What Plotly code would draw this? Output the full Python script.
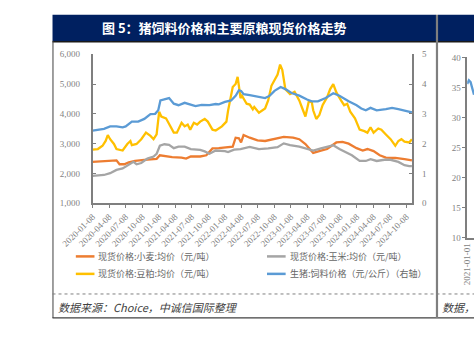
import plotly.graph_objects as go

W, H = 474, 341

title_text = "图 5：猪饲料价格和主要原粮现货价格走势"
source_text = "数据来源：Choice，中诚信国际整理"
source_text_right = "数据，"

series_names = ["现货价格:小麦:均价（元/吨）", "现货价格:玉米:均价（元/吨）",
                "现货价格:豆粕:均价（元/吨）", "生猪:饲料价格（元/公斤）（右轴）"]
series_colors = ["#ED7D31", "#A5A5A5", "#FFC000", "#5B9BD5"]

tick_labels = ["2020-01-08", "2020-04-08", "2020-07-08", "2020-10-08",
               "2021-01-08", "2021-04-08", "2021-07-08", "2021-10-08",
               "2022-01-08", "2022-04-08", "2022-07-08", "2022-10-08",
               "2023-01-08", "2023-04-08", "2023-07-08", "2023-10-08",
               "2024-01-08", "2024-04-08", "2024-07-08", "2024-10-08"]
left_ticks = [1000, 2000, 3000, 4000, 5000, 6000]
right_ticks = [0, 1, 2, 3, 4, 5]

wheat_dates = ["2020-01-08", "2020-05-02", "2020-05-19", "2020-06-05", "2020-07-01", "2020-07-26",
               "2020-08-30", "2020-10-20", "2020-12-27", "2021-01-14", "2021-03-23", "2021-05-14",
               "2021-06-08", "2021-07-04", "2021-08-25", "2021-09-28", "2021-11-01", "2021-12-06",
               "2022-01-26", "2022-02-21", "2022-03-09", "2022-03-27", "2022-04-08", "2022-04-22",
               "2022-05-26", "2022-07-08", "2022-08-19", "2022-10-10", "2022-11-30", "2023-01-21",
               "2023-02-24", "2023-03-30", "2023-04-25", "2023-05-12", "2023-06-24", "2023-07-28",
               "2023-09-17", "2023-10-21", "2023-11-24", "2024-01-07", "2024-02-10", "2024-03-07",
               "2024-04-10", "2024-05-14", "2024-06-17", "2024-08-08", "2024-09-28", "2024-11-08"]
wheat_vals = [2390, 2420, 2440, 2310, 2310, 2370,
              2420, 2460, 2490, 2610, 2550, 2530,
              2500, 2570, 2570, 2610, 2840, 2850,
              2900, 2900, 3200, 3180, 3040, 3290,
              3200, 3110, 3090, 3150, 3230, 3200,
              3150, 2990, 2820, 2690, 2770, 2820,
              3040, 3060, 3000, 2850, 2770, 2820,
              2750, 2610, 2530, 2520, 2480, 2440]

corn_dates = ["2020-01-08", "2020-03-11", "2020-04-14", "2020-05-19", "2020-06-22", "2020-07-26",
              "2020-08-21", "2020-09-07", "2020-10-03", "2020-11-06", "2020-12-10", "2020-12-27",
              "2021-01-14", "2021-02-08", "2021-03-06", "2021-04-01", "2021-04-27", "2021-05-31",
              "2021-07-04", "2021-08-25", "2021-09-19", "2021-10-15", "2021-11-19", "2022-01-09",
              "2022-01-26", "2022-03-01", "2022-04-05", "2022-05-26", "2022-06-29", "2022-07-16",
              "2022-09-05", "2022-10-27", "2022-11-30", "2023-01-04", "2023-02-24", "2023-03-30",
              "2023-05-12", "2023-06-24", "2023-08-06", "2023-08-31", "2023-10-04", "2023-11-07",
              "2023-12-12", "2024-01-24", "2024-02-27", "2024-03-24", "2024-04-27", "2024-06-09",
              "2024-07-13", "2024-08-25", "2024-09-28", "2024-10-24", "2024-11-08"]
corn_vals = [1920, 1950, 2010, 2120, 2170, 2280,
             2390, 2310, 2350, 2500, 2570, 2660,
             2930, 2980, 2960, 2850, 2900, 2900,
             2820, 2790, 2740, 2660, 2770, 2750,
             2720, 2800, 2820, 2890, 2850, 2820,
             2840, 2880, 3010, 2950, 2900, 2850,
             2770, 2840, 2900, 2950, 2820, 2720,
             2610, 2420, 2420, 2480, 2420, 2460,
             2460, 2390, 2280, 2250, 2250]

soy_dates = ["2020-01-08", "2020-02-06", "2020-03-03", "2020-03-20", "2020-04-01", "2020-04-14",
             "2020-05-05", "2020-05-19", "2020-06-22", "2020-07-18", "2020-08-04", "2020-08-12",
             "2020-09-07", "2020-10-03", "2020-10-29", "2020-11-23", "2020-12-10", "2020-12-27",
             "2021-01-10", "2021-01-22", "2021-02-17", "2021-03-06", "2021-04-01", "2021-04-18",
             "2021-05-14", "2021-05-31", "2021-06-17", "2021-07-01", "2021-07-21", "2021-08-08",
             "2021-08-25", "2021-09-19", "2021-10-06", "2021-11-01", "2021-11-19", "2021-12-23",
             "2022-01-17", "2022-01-26", "2022-02-12", "2022-02-21", "2022-03-09", "2022-03-20",
             "2022-03-27", "2022-04-05", "2022-04-13", "2022-05-09", "2022-05-26", "2022-06-12",
             "2022-06-20", "2022-07-16", "2022-08-19", "2022-09-05", "2022-09-23", "2022-10-27",
             "2022-11-10", "2022-11-22", "2022-12-09", "2023-01-04", "2023-01-29", "2023-02-24",
             "2023-03-13", "2023-03-30", "2023-04-17", "2023-05-04", "2023-05-12", "2023-05-29",
             "2023-06-15", "2023-07-03", "2023-07-28", "2023-08-14", "2023-08-31", "2023-09-17",
             "2023-10-13", "2023-10-30", "2023-11-16", "2023-12-03", "2023-12-29", "2024-01-24",
             "2024-02-19", "2024-03-07", "2024-03-24", "2024-04-10", "2024-05-06", "2024-05-23",
             "2024-06-17", "2024-07-13", "2024-08-08", "2024-08-25", "2024-09-11", "2024-09-28",
             "2024-10-24", "2024-11-08"]
soy_vals = [2800, 2820, 2930, 3090, 3290, 3150,
            2990, 2820, 2770, 2990, 3090, 2950,
            2990, 3150, 3370, 3260, 3150, 3310,
            4070, 3910, 3850, 3640, 3370, 3370,
            3700, 3580, 3640, 3470, 3700, 3640,
            3740, 3830, 3740, 3470, 3440, 3580,
            3740, 4100, 4560, 4900, 5000, 5240,
            4940, 4530, 4610, 4340, 4310, 4150,
            4230, 4040, 4180, 4450, 4940, 5320,
            5650, 5480, 4830, 4660, 4740, 4450,
            4180, 3910, 4400, 4400, 4120, 3830,
            3960, 4290, 4560, 4830, 5000, 4720,
            4450, 4290, 4340, 4070, 3850, 3470,
            3420, 3370, 3550, 3370, 3510, 3470,
            3310, 3150, 2930, 3090, 3150, 3070,
            3040, 3150]

pig_dates = ["2020-01-08", "2020-03-11", "2020-04-14", "2020-05-19", "2020-06-22", "2020-07-09",
             "2020-08-12", "2020-09-16", "2020-10-20", "2020-11-23", "2020-12-19", "2021-01-05",
             "2021-01-17", "2021-02-17", "2021-03-06", "2021-04-01", "2021-04-27", "2021-05-31",
             "2021-07-04", "2021-07-30", "2021-09-02", "2021-10-15", "2021-11-19", "2021-12-06",
             "2022-01-09", "2022-02-12", "2022-03-10", "2022-03-27", "2022-04-08", "2022-04-22",
             "2022-05-26", "2022-06-29", "2022-08-19", "2022-09-14", "2022-10-10", "2022-11-13",
             "2022-12-09", "2023-01-12", "2023-02-24", "2023-04-08", "2023-05-04", "2023-06-07",
             "2023-07-20", "2023-08-31", "2023-10-04", "2023-11-24", "2024-01-07", "2024-02-02",
             "2024-02-27", "2024-03-24", "2024-04-27", "2024-06-17", "2024-07-21", "2024-08-25",
             "2024-09-28", "2024-11-08"]
pig_vals = [2.44, 2.50, 2.58, 2.58, 2.55, 2.58,
            2.74, 2.74, 2.83, 2.99, 3.00, 3.12,
            3.45, 3.50, 3.53, 3.34, 3.29, 3.37,
            3.32, 3.26, 3.30, 3.29, 3.33, 3.32,
            3.40, 3.45, 3.61, 3.79, 3.77, 3.66,
            3.63, 3.58, 3.53, 3.61, 3.77, 3.90,
            3.83, 3.70, 3.61, 3.48, 3.42, 3.42,
            3.53, 3.69, 3.61, 3.42, 3.29, 3.18,
            3.12, 3.20, 3.12, 3.16, 3.20, 3.16,
            3.10, 3.05]

# partially visible neighbouring panel (cut off at the right edge)
side_x = [0.0, 0.25, 0.5, 0.75, 1.0]
side_vals = [35.6, 36.2, 35.9, 34.8, 33.8]
side_ticks = [10, 15, 20, 25, 30, 35, 40]
side_tick_label = ["2021-01-01"]

CJK = "Noto Sans CJK SC"
SERIF = "Liberation Serif"
GREY_TXT = "#7f7f7f"


def px(x):
    return x / W


def py(y):
    return 1 - y / H


fig = go.Figure()
series = [(wheat_dates, wheat_vals, "y"), (corn_dates, corn_vals, "y"),
          (soy_dates, soy_vals, "y"), (pig_dates, pig_vals, "y2")]
for (d, v, ax), name, col in zip(series, series_names, series_colors):
    fig.add_trace(go.Scatter(x=d, y=v, name=name, mode="lines", yaxis=ax, xaxis="x",
                             line=dict(color=col, width=2.3), showlegend=False))

fig.add_trace(go.Scatter(x=side_x, y=side_vals, mode="lines", xaxis="x3", yaxis="y3",
                         line=dict(color=series_colors[3], width=2.3), showlegend=False))

axis_common = dict(showgrid=False, zeroline=False, showline=True, linecolor="#7f7f7f",
                   linewidth=1.5, tickcolor="#7f7f7f", tickfont=dict(family=SERIF, size=9, color=GREY_TXT))

fig.update_layout(
    width=W, height=H, margin=dict(l=0, r=0, t=0, b=0),
    paper_bgcolor="white", plot_bgcolor="white",
    xaxis=dict(domain=[px(65), px(408)], type="date", range=["2020-01-08", "2024-11-11"],
               tickvals=tick_labels, ticktext=tick_labels, tickangle=-45,
               ticks="outside", ticklen=3, anchor="y", **axis_common),
    yaxis=dict(domain=[py(204.3), py(50.7)], range=[1000, 6000], tickvals=left_ticks,
               tickformat=",", ticks="inside", ticklen=4, ticklabelstandoff=9, anchor="x",
               **axis_common),
    yaxis2=dict(overlaying="y", side="right", anchor="x", range=[0, 5], tickvals=right_ticks,
                ticks="inside", ticklen=4, ticklabelstandoff=6, **axis_common),
    xaxis3=dict(domain=[px(466.7), 1], range=[0, 1], tickvals=[0], ticktext=side_tick_label,
                tickangle=-90, ticks="", anchor="y3", **axis_common),
    yaxis3=dict(domain=[py(240), py(54)], range=[10, 40], tickvals=side_ticks, ticks="outside",
                ticklen=3, anchor="x3", **axis_common),
)

shapes = []
# title bars
shapes.append(dict(type="rect", xref="paper", yref="paper", x0=px(22), x1=px(433.3), y0=py(37), y1=py(10),
                   fillcolor="#002060", line=dict(width=0), layer="below"))
shapes.append(dict(type="rect", xref="paper", yref="paper", x0=px(435.3), x1=1, y0=py(37), y1=py(10),
                   fillcolor="#002060", line=dict(width=0), layer="below"))
# line under title
shapes.append(dict(type="line", xref="paper", yref="paper", x0=px(22), x1=1, y0=py(37.8), y1=py(37.8),
                   line=dict(color="#1a1a1a", width=1.5)))
# frame
shapes.append(dict(type="line", xref="paper", yref="paper", x0=px(22.5), x1=px(22.5), y0=py(37), y1=py(322.5),
                   line=dict(color="#404040", width=1)))
shapes.append(dict(type="line", xref="paper", yref="paper", x0=px(22), x1=1, y0=py(322.3), y1=py(322.3),
                   line=dict(color="#404040", width=1.2)))
shapes.append(dict(type="line", xref="paper", yref="paper", x0=px(22), x1=1, y0=py(297.7), y1=py(297.7),
                   line=dict(color="#808080", width=1, dash="dot")))
# divider between panels
shapes.append(dict(type="line", xref="paper", yref="paper", x0=px(434.3), x1=px(434.3), y0=py(10), y1=py(322.5),
                   line=dict(color="#7f7f7f", width=2.2)))

# legend
leg_pos = [(47, 259), (252, 259), (47, 277), (252, 277)]
annotations = []
for (lx, ly), name, col in zip(leg_pos, series_names, series_colors):
    shapes.append(dict(type="line", xref="paper", yref="paper", x0=px(lx), x1=px(lx + 20),
                       y0=py(ly), y1=py(ly), line=dict(color=col, width=2.5)))
    annotations.append(dict(xref="paper", yref="paper", x=px(lx + 22), y=py(ly), text=name,
                            showarrow=False, xanchor="left", yanchor="middle",
                            font=dict(family=CJK, size=9, color="#666666")))

annotations.append(dict(xref="paper", yref="paper", x=px(206), y=py(23.5), text="<b>" + title_text + "</b>",
                        showarrow=False, xanchor="center", yanchor="middle",
                        font=dict(family=CJK, size=13, color="white")))
annotations.append(dict(xref="paper", yref="paper", x=px(26), y=py(311.5), text="<i>" + source_text + "</i>",
                        showarrow=False, xanchor="left", yanchor="middle",
                        font=dict(family=CJK, size=11, color="#404040")))
annotations.append(dict(xref="paper", yref="paper", x=px(438), y=py(311.5), text="<i>" + source_text_right + "</i>",
                        showarrow=False, xanchor="left", yanchor="middle",
                        font=dict(family=CJK, size=11, color="#404040")))

fig.update_layout(shapes=shapes, annotations=annotations)

fig.write_html("out.html")
